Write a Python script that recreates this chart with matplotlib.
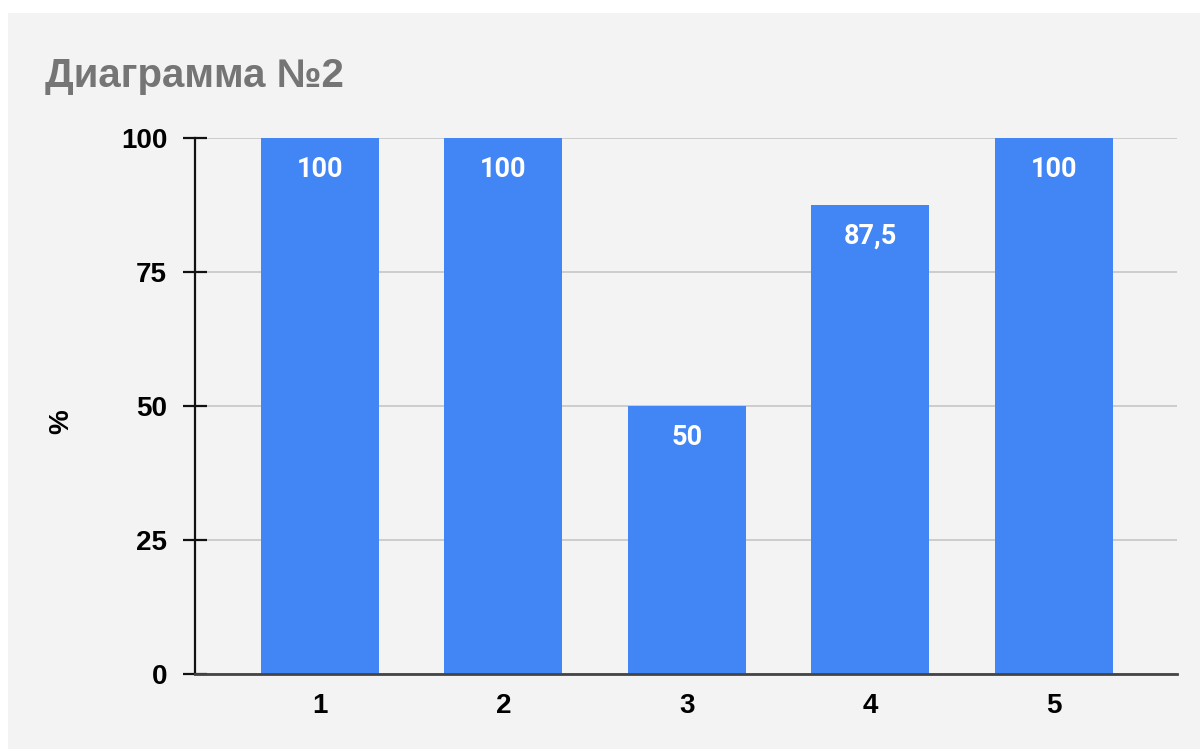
import numpy as np
import matplotlib.pyplot as plt
from matplotlib.patches import Rectangle

categories = ['1', '2', '3', '4', '5']
values = [100, 100, 50, 87.5, 100]
value_labels = ['100', '100', '50', '87,5', '100']
y_ticks = [0, 25, 50, 75, 100]

fig = plt.figure(figsize=(12, 7.49), dpi=100)
fig.patch.set_facecolor('white')
# grey panel behind the chart
fig.patches.append(Rectangle((8 / 1200, 0), 1, 1 - 13 / 749, transform=fig.transFigure,
                             facecolor='#f3f3f3', edgecolor='none', zorder=-5))

ax = fig.add_axes([195 / 1200, 1 - 674 / 749, (1177 - 195) / 1200, (674 - 138) / 749])
ax.set_facecolor('#f3f3f3')

x = np.arange(1, len(categories) + 1)
bars = ax.bar(x, values, width=0.643, color='#4285f4', zorder=3)

for xi, v, lab in zip(x, values, value_labels):
    ax.annotate(lab, (xi, v), xytext=(0, -13), textcoords='offset points',
                ha='center', va='top', color='white', fontsize=19.5,
                fontfamily='Roboto', fontweight='bold', zorder=4)

ax.set_xlim(0.32, 5.67)
ax.set_ylim(0, 100)
ax.set_xticks(x)
ax.set_xticklabels(categories)
ax.set_yticks(y_ticks)

ax.grid(axis='y', color='#cccccc', linewidth=1.4, zorder=1)
for s in ['top', 'right']:
    ax.spines[s].set_visible(False)
ax.spines['left'].set_linewidth(1.6)
ax.spines['left'].set_color('#111111')
ax.spines['bottom'].set_linewidth(2)
ax.spines['bottom'].set_color('#444444')
ax.spines['left'].set_zorder(5)
ax.spines['bottom'].set_zorder(5)

ax.tick_params(axis='y', direction='inout', length=17, width=1.6, color='#111111', pad=11.5)
ax.tick_params(axis='x', length=0, pad=14)
for lbl in ax.get_xticklabels() + ax.get_yticklabels():
    lbl.set_fontfamily('Liberation Sans')
    lbl.set_fontweight('bold')
    lbl.set_fontsize(20)
    lbl.set_color('black')

ax.set_ylabel('%', fontsize=20, fontweight='bold', fontfamily='Liberation Sans')
ax.yaxis.set_label_coords(-0.123, 0.47)

fig.text(45 / 1200, 1 - 76 / 749, 'Диаграмма №2', fontsize=29, fontweight='bold',
         fontfamily='Liberation Sans', color='#757575', va='center', ha='left')

plt.savefig('out.png', dpi=100, facecolor=fig.get_facecolor())
